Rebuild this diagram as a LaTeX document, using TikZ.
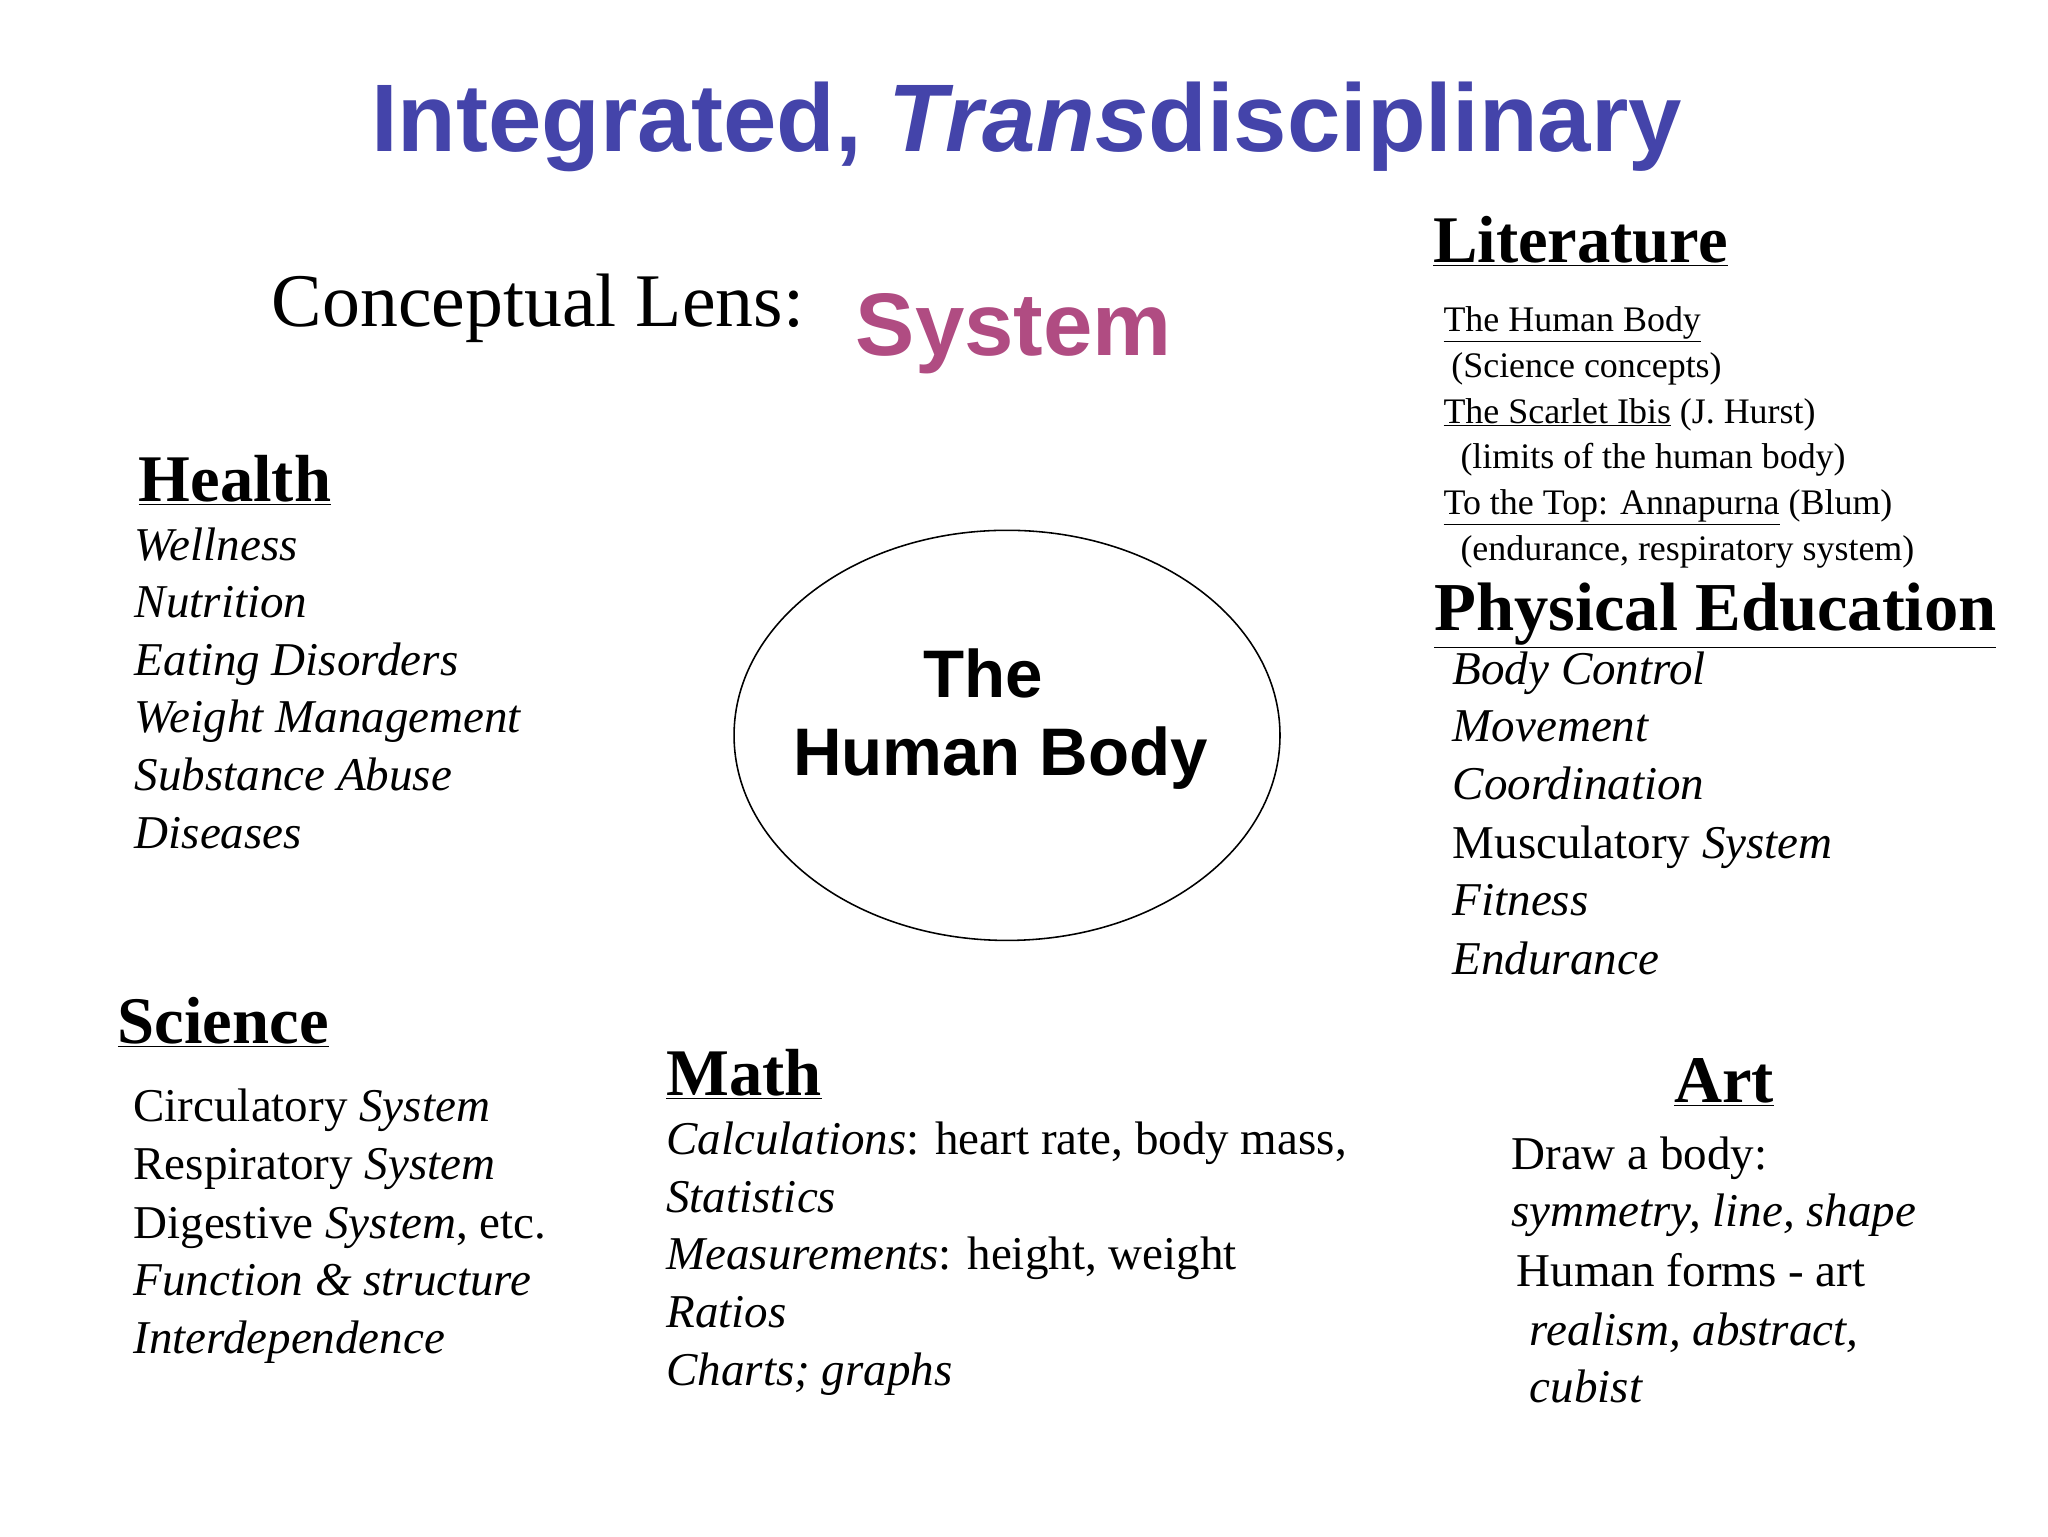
\documentclass[tikz,border=0pt]{standalone}
\usepackage{fontspec}
\setmainfont{Liberation Serif}
\setsansfont{Liberation Sans}
\usetikzlibrary{shapes.geometric}
\begin{document}
\begin{tikzpicture}[x=1pt,y=-1pt,
  every node/.style={inner sep=0pt,anchor=base west},
  head/.style={font=\fontsize{51}{60}\selectfont\bfseries},
  item/.style={font=\fontsize{36}{40}\selectfont\itshape},
  itemr/.style={font=\fontsize{36}{40}\selectfont},
  lit/.style={font=\fontsize{27.5}{30}\selectfont}]
\definecolor{titleblue}{HTML}{4444AA}
\definecolor{sysmag}{HTML}{B04C82}
\useasboundingbox[fill=white] (0,0) rectangle (1568,1176);
\node[anchor=base,font=\fontsize{73.5}{90}\selectfont\sffamily\bfseries,text=titleblue] (title) at (786,116) {Integrated, \textit{Trans}disciplinary};
\node[font=\fontsize{58}{70}\selectfont] (lens) at (208,250) {Conceptual Lens:};
\node[font=\fontsize{68}{80}\selectfont\sffamily\bfseries,text=sysmag] (sys) at (655,272) {System};
% ellipse
\draw[line width=1.2pt] (771,563) ellipse [x radius=209,y radius=157];
\node[anchor=base,font=\fontsize{51.5}{60}\selectfont\sffamily\bfseries] (the) at (753,534) {The};
\node[anchor=base,font=\fontsize{51.5}{60}\selectfont\sffamily\bfseries] (hb) at (766,594) {Human Body};
% Health
\node[head] (health) at (106,384) {\underline{Health}};
\node[item] (h1) at (103,429) {Wellness};
\node[item] (h2) at (103,473) {Nutrition};
\node[item] (h3) at (103,517) {Eating Disorders};
\node[item] (h4) at (103,561) {Weight Management};
\node[item] (h5) at (103,605) {Substance Abuse};
\node[item] (h6) at (103,650) {Diseases};
% Science
\node[head] (sci) at (90,799) {\underline{Science}};
\node[itemr] (s1) at (102,859) {Circulatory \textit{System}};
\node[itemr] (s2) at (102,903) {Respiratory \textit{System}};
\node[itemr] (s3) at (102,948) {Digestive \textit{System}, etc.};
\node[item] (s4) at (102,992) {Function \& structure};
\node[item] (s5) at (102,1036) {Interdependence};
% Math
\node[head] (math) at (510,839) {\underline{Math}};
\node[itemr] (m1) at (510,884) {\textit{Calculations}: heart rate, body mass,};
\node[item] (m2) at (510,928) {Statistics};
\node[itemr] (m3) at (510,972) {\textit{Measurements}: height, weight};
\node[item] (m4) at (510,1016) {Ratios};
\node[item] (m5) at (510,1061) {Charts; graphs};
% Art
\node[head,anchor=base] (art) at (1320,844) {\underline{Art}};
\node[itemr] (a1) at (1157,895) {Draw a body:};
\node[item] (a2) at (1157,939) {symmetry, line, shape};
\node[itemr] (a3) at (1161,985) {Human forms - art};
\node[item] (a4) at (1171,1030) {realism, abstract,};
\node[item] (a5) at (1171,1074) {cubist};
% Literature
\node[head] (litr) at (1097,201) {\underline{Literature}};
\node[lit] (l1) at (1105,254) {\underline{The Human Body}};
\node[lit] (l2) at (1111,289) {(Science concepts)};
\node[lit] (l3) at (1105,324) {\underline{The Scarlet Ibis} (J. Hurst)};
\node[lit] (l4) at (1118,359) {(limits of the human body)};
\node[lit] (l5) at (1105,394) {\underline{To the Top: Annapurna} (Blum)};
\node[lit] (l6) at (1118,429) {(endurance, respiratory system)};
% PE
\node[head,font=\fontsize{52.5}{60}\selectfont\bfseries] (pe) at (1098,483) {\underline{Physical Education}};
\node[item] (p1) at (1112,524) {Body Control};
\node[item] (p2) at (1112,568) {Movement};
\node[item] (p3) at (1112,612) {Coordination};
\node[itemr] (p4) at (1112,657) {Musculatory \textit{System}};
\node[item] (p5) at (1112,701) {Fitness};
\node[item] (p6) at (1112,746) {Endurance};
\end{tikzpicture}
\end{document}
